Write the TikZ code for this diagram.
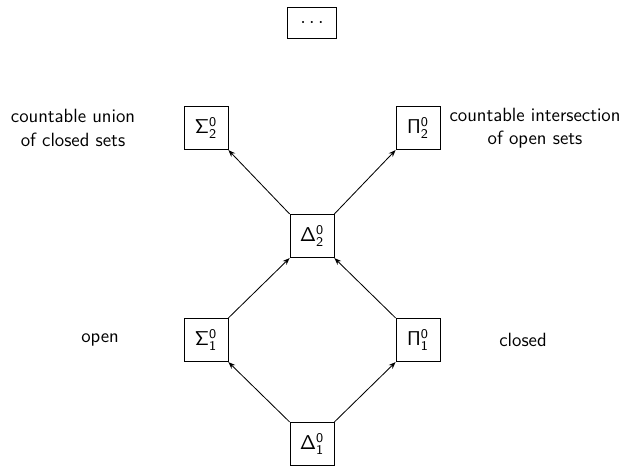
\documentclass[tikz,border=0pt]{standalone}
\usetikzlibrary{arrows.meta}
\renewcommand{\familydefault}{\sfdefault}
\newcommand{\cls}[3]{$\mathsf{#1}^{\mathsf{#2}}_{\mathsf{#3}}$}
\begin{document}
\begin{tikzpicture}[x=0.6pt,y=-0.6pt,
  every node/.style={font=\sffamily\fontsize{11.5}{14}\selectfont},
  cls/.style={draw, minimum width=26.4pt, minimum height=26pt, inner sep=2pt, line width=0.5pt},
  lbl/.style={align=center},
  arr/.style={-{Stealth[length=4.2pt,width=3.2pt]}, line width=0.5pt}]
\useasboundingbox (0,0) rectangle (642,467);
\node[cls, minimum width=29pt, minimum height=19pt] (dots) at (312,23) {$\cdots$};
\node[cls] (s2) at (206,128) {\cls{\Sigma}{0}{2}};
\node[cls] (p2) at (418,128) {\cls{\Pi}{0}{2}};
\node[cls] (d2) at (312,236) {\cls{\Delta}{0}{2}};
\node[cls] (s1) at (206,340) {\cls{\Sigma}{0}{1}};
\node[cls] (p1) at (418,340) {\cls{\Pi}{0}{1}};
\node[cls] (d1) at (312,444) {\cls{\Delta}{0}{1}};
\node[lbl] (ls2) at (73,128) {countable union\\of closed sets};
\node[lbl] (lp2) at (535,128) {countable intersection\\of open sets};
\node[lbl] (ls1) at (100,340) {open};
\node[lbl] (lp1) at (523,340) {closed};
\draw[arr] (d1.north west) -- (s1.south east);
\draw[arr] (d1.north east) -- (p1.south west);
\draw[arr] (s1.north east) -- (d2.south west);
\draw[arr] (p1.north west) -- (d2.south east);
\draw[arr] (d2.north west) -- (s2.south east);
\draw[arr] (d2.north east) -- (p2.south west);
\end{tikzpicture}
\end{document}
